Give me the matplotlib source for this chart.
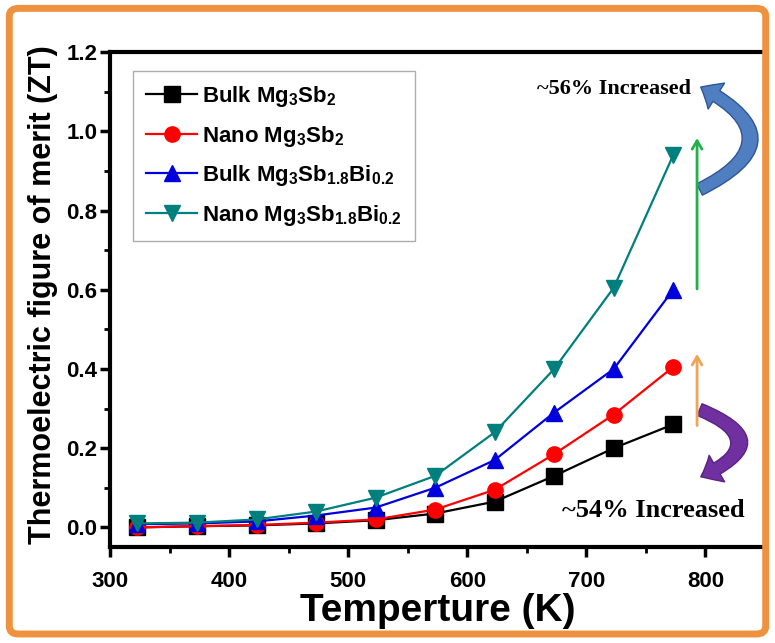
import matplotlib
matplotlib.use("Agg")
import matplotlib.pyplot as plt
from matplotlib.patches import FancyArrowPatch, FancyBboxPatch
from matplotlib.ticker import MultipleLocator, FormatStrFormatter

plt.rcParams['font.family'] = ['Liberation Sans', 'DejaVu Sans']
plt.rcParams['font.weight'] = 'bold'
plt.rcParams['mathtext.fontset'] = 'custom'
plt.rcParams['mathtext.rm'] = 'Liberation Sans:bold'
plt.rcParams['mathtext.bf'] = 'Liberation Sans:bold'
plt.rcParams['mathtext.default'] = 'bf'

# temperature (K) and ZT for each sample
temps = [323, 373, 423, 473, 523, 573, 623, 673, 723, 773]
bulk_mg3sb2 = [0.0, 0.003, 0.005, 0.010, 0.018, 0.035, 0.065, 0.13, 0.20, 0.26]
nano_mg3sb2 = [0.0, 0.003, 0.006, 0.012, 0.020, 0.045, 0.095, 0.185, 0.285, 0.405]
bulk_bi = [0.008, 0.010, 0.015, 0.030, 0.050, 0.100, 0.170, 0.290, 0.400, 0.600]
nano_bi = [0.010, 0.012, 0.020, 0.040, 0.075, 0.130, 0.240, 0.400, 0.605, 0.940]

labels = [r'Bulk Mg$_3$Sb$_2$', r'Nano Mg$_3$Sb$_2$',
          r'Bulk Mg$_3$Sb$_{1.8}$Bi$_{0.2}$', r'Nano Mg$_3$Sb$_{1.8}$Bi$_{0.2}$']
series = [bulk_mg3sb2, nano_mg3sb2, bulk_bi, nano_bi]
colors = ['black', '#FF0000', '#0000DD', '#007F7F']
markers = ['s', 'o', '^', 'v']

fig = plt.figure(figsize=(7.75, 6.43), dpi=100)
ax = fig.add_axes([0.142, 0.149, 0.845, 0.770])

for ys, lab, c, m in zip(series, labels, colors, markers):
    ax.plot(temps, ys, color=c, marker=m, markersize=11, lw=1.6, label=lab)

ax.set_xlim(300, 850)
ax.set_ylim(-0.05, 1.2)
ax.xaxis.set_major_locator(MultipleLocator(100))
ax.xaxis.set_minor_locator(MultipleLocator(50))
ax.yaxis.set_major_locator(MultipleLocator(0.2))
ax.yaxis.set_minor_locator(MultipleLocator(0.1))
ax.yaxis.set_major_formatter(FormatStrFormatter('%.1f'))
ax.tick_params(which='major', direction='out', length=7, width=2.5, labelsize=16)
ax.tick_params(axis='x', which='major', pad=10)
ax.tick_params(axis='y', which='major', pad=2)
ax.tick_params(which='minor', direction='out', length=4, width=2)
for sp in ax.spines.values():
    sp.set_linewidth(3)

ax.set_xlabel('Temperture (K)', fontsize=28, fontweight='bold', labelpad=1)
ax.set_ylabel('Thermoelectric figure of merit (ZT)', fontsize=22, fontweight='bold')
ax.yaxis.set_label_coords(-0.08, 0.51)

leg = ax.legend(loc='upper left', bbox_to_anchor=(0.035, 0.962), borderaxespad=0,
                fancybox=False, edgecolor='#999999', fontsize=16, handlelength=2.3,
                labelspacing=0.65, handletextpad=0.2, borderpad=0.6)
leg.get_frame().set_linewidth(1)

# straight arrows marking the increase at 773 K
ax.annotate('', xy=(793, 0.99), xytext=(793, 0.595),
            arrowprops=dict(arrowstyle='->,head_width=0.35,head_length=0.6', color='#22B04A', lw=2))
ax.annotate('', xy=(793, 0.445), xytext=(793, 0.25),
            arrowprops=dict(arrowstyle='->,head_width=0.35,head_length=0.6', color='#F0A458', lw=2))

# curved arrows pointing to the labels
ax.add_patch(FancyArrowPatch((793, 0.85), (794, 1.115), connectionstyle='arc3,rad=1.0',
                             arrowstyle='simple,tail_width=0.7,head_width=1.7,head_length=1.0',
                             mutation_scale=13, fc='#4F7FC0', ec='#2F5597', lw=1))
ax.add_patch(FancyArrowPatch((793, 0.30), (794, 0.125), connectionstyle='arc3,rad=-1.2',
                             arrowstyle='simple,tail_width=0.7,head_width=1.7,head_length=1.0',
                             mutation_scale=13, fc='#7030A0', ec='#5A2285', lw=1))

ax.text(788, 1.106, '~56% Increased', family='Liberation Serif', fontweight='bold',
        fontsize=16, ha='right', va='center')
ax.text(833, 0.043, '~54% Increased', family='Liberation Serif', fontweight='bold',
        fontsize=19, ha='right', va='center')

# orange rounded frame around the whole figure
fig.patches.append(FancyBboxPatch((0.012, 0.014), 0.976, 0.973, boxstyle='round,pad=0,rounding_size=0.012',
                                  transform=fig.transFigure, fc='none', ec='#EF9240', lw=5))

fig.savefig('out.png', dpi=100)
